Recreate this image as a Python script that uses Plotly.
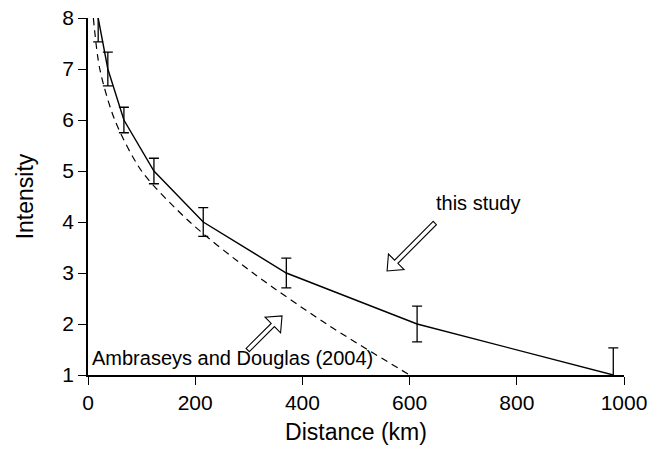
import plotly.graph_objects as go

# ---- data ----
study_dist = [19, 37, 67, 123, 215, 370, 614, 980]
study_int = [8, 7, 6, 5, 4, 3, 2, 1]
study_err = [0.47, 0.33, 0.25, 0.25, 0.28, 0.29, 0.35, 0.53]

ad_dist = [10, 22, 50, 100, 190, 308, 445, 600]
ad_int = [8, 7, 6, 5, 4, 3, 2, 1]

x_ticks = [0, 200, 400, 600, 800, 1000]
y_ticks = [1, 2, 3, 4, 5, 6, 7, 8]

# annotation anchors (data coords): (tail_x, tail_y, tip_x, tip_y)
arrow_study = (647, 3.98, 558, 3.04)
arrow_ad = (298, 1.49, 362, 2.16)

FONT = "Liberation Sans, Arial, Helvetica, sans-serif"
W, H = 657, 458
L, R, T, B = 88, 33, 18, 83
X0, X1 = 0, 1000
Y0, Y1 = 1, 8
PW, PH = W - L - R, H - T - B


def to_px(x, y):
    return (L + (x - X0) / (X1 - X0) * PW, T + (Y1 - y) / (Y1 - Y0) * PH)


def to_data(px, py):
    return (X0 + (px - L) / PW * (X1 - X0), Y1 - (py - T) / PH * (Y1 - Y0))


def hollow_arrow(tail, tip, shaft_hw=2.3, head_len=13, head_hw=11):
    tx, ty = to_px(*tail)
    hx, hy = to_px(*tip)
    dx, dy = hx - tx, hy - ty
    n = (dx * dx + dy * dy) ** 0.5
    ux, uy = dx / n, dy / n
    vx, vy = -uy, ux
    bx, by = hx - ux * head_len, hy - uy * head_len
    pts = [
        (tx + vx * shaft_hw, ty + vy * shaft_hw),
        (bx + vx * shaft_hw, by + vy * shaft_hw),
        (bx + vx * head_hw, by + vy * head_hw),
        (hx, hy),
        (bx - vx * head_hw, by - vy * head_hw),
        (bx - vx * shaft_hw, by - vy * shaft_hw),
        (tx - vx * shaft_hw, ty - vy * shaft_hw),
    ]
    d = []
    for i, (px, py) in enumerate(pts):
        x, y = to_data(px, py)
        d.append(("M" if i == 0 else "L") + f"{x:.3f},{y:.4f}")
    return " ".join(d) + " Z"


fig = go.Figure()

fig.add_trace(go.Scatter(
    x=ad_dist, y=ad_int, mode="lines",
    line=dict(color="black", width=1.2, dash="7px,5px", shape="spline", smoothing=0.8),
    showlegend=False, hoverinfo="skip",
))

fig.add_trace(go.Scatter(
    x=study_dist, y=study_int, mode="lines",
    line=dict(color="black", width=1.4),
    error_y=dict(type="data", array=study_err, visible=True,
                 color="black", thickness=1.3, width=5),
    showlegend=False,
))

for arr in (arrow_study, arrow_ad):
    fig.add_shape(type="path", path=hollow_arrow(arr[:2], arr[2:]),
                  xref="x", yref="y", fillcolor="white",
                  line=dict(color="black", width=1.1), layer="above")

fig.add_annotation(x=728, y=4.37, text="this study", showarrow=False,
                   xref="x", yref="y", font=dict(family=FONT, size=20, color="black"))
fig.add_annotation(x=3, y=1.33, text="Ambraseys and Douglas (2004)", showarrow=False,
                   xanchor="left", xref="x", yref="y",
                   font=dict(family=FONT, size=20, color="black"))

axis_common = dict(
    showgrid=False, zeroline=False, showline=True, linecolor="black", linewidth=1.5,
    ticks="outside", ticklen=8, tickwidth=1.3, tickcolor="black",
    tickfont=dict(family=FONT, size=21, color="black"),
)

fig.update_xaxes(range=[X0, X1], tickvals=x_ticks, **axis_common,
                 title=dict(text="Distance (km)", font=dict(family=FONT, size=23, color="black"),
                            standoff=11))
fig.update_yaxes(range=[Y0, Y1], tickvals=y_ticks, **axis_common,
                 title=dict(text="Intensity", font=dict(family=FONT, size=23, color="black"),
                            standoff=22))

fig.update_layout(
    width=W, height=H,
    margin=dict(l=L, r=R, t=T, b=B, autoexpand=False),
    plot_bgcolor="white", paper_bgcolor="white",
    font=dict(family=FONT, color="black"),
)

fig.write_html("out.html", config={"displayModeBar": False},
               post_script="document.body.style.margin='0';")
